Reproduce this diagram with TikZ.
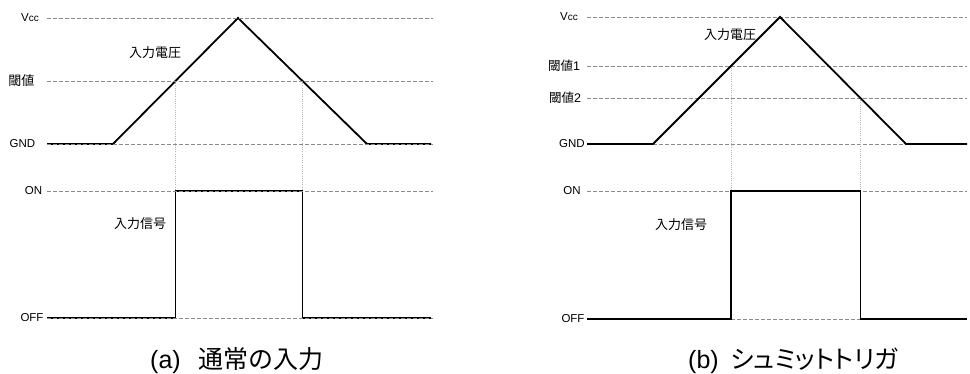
\documentclass[tikz,border=0pt]{standalone}
\usepackage{fontspec}
\setmainfont{Liberation Sans}
\newfontfamily\jp{Noto Sans CJK JP}
\newfontfamily\jpp[RawFeature=+palt]{Noto Sans CJK JP}
\definecolor{dashgray}{HTML}{8C8C8C}
\definecolor{dotgray}{HTML}{B4B4B4}
\tikzset{
  guide/.style={draw=dashgray, line width=0.9pt, dash pattern=on 4pt off 2pt},
  drop/.style={draw=dotgray, line width=0.8pt, dash pattern=on 1pt off 1.2pt},
  wave/.style={draw=black, line width=1.8pt, line join=miter},
  lvl/.style={inner sep=0pt, font=\fontsize{11.5}{13}\selectfont},
  jlbl/.style={inner sep=0pt, font=\fontsize{13}{15}\selectfont\jp},
  captext/.style={inner sep=0pt, anchor=west, font=\fontsize{25}{29}\selectfont}
}
\begin{document}
\begin{tikzpicture}[x=1pt,y=-1pt]
\useasboundingbox (0,0) rectangle (970,374);
% ================= panel (a) =================
\coordinate (aVl) at (47,18);   \coordinate (aVr) at (433,18);
\coordinate (aTl) at (47,81);   \coordinate (aTr) at (433,81);
\coordinate (aGl) at (47,144);  \coordinate (aGr) at (433,144);
\coordinate (aOl) at (47,191);  \coordinate (aOr) at (433,191);
\coordinate (aFl) at (47,318);  \coordinate (aFr) at (433,318);
\coordinate (aR1) at (175.5,81); \coordinate (aR2) at (302.5,81);
\coordinate (aS1) at (175.5,318); \coordinate (aS2) at (302.5,318);
% dotted drops
\draw[drop] (aR1) -- (aS1);
\draw[drop] (aR2) -- (aS2);
% waveforms
\draw[wave] (47,144) -- (113,144) -- (238,18) -- (367,144) -- (431,144);
\draw[wave] (47,318) -- (175.5,318) -- (175.5,191) -- (302.5,191) -- (302.5,318) -- (431,318);
% dashed guides (on top in panel a)
\foreach \l/\r in {aVl/aVr, aTl/aTr, aGl/aGr, aOl/aOr, aFl/aFr}
  \draw[guide] (\l) -- (\r);
% labels
\node[lvl] (aVcc) at (30,18) {V\fontsize{10}{11}\selectfont cc};
\node[jlbl] (aTh) at (21.5,81) {閾値};
\node[lvl] (aGND) at (22.5,144) {GND};
\node[lvl] (aON) at (33.5,191) {ON};
\node[lvl] (aOFF) at (32,318) {OFF};
\node[jlbl] (aVin) at (155,53) {入力電圧};
\node[jlbl] (aSig) at (140,224) {入力信号};
\node[captext] (aCap) at (150,361) {(a)\hspace{18pt}{\jp 通常の入力}};
% ================= panel (b) =================
\coordinate (bVl) at (587,17);  \coordinate (bVr) at (967,17);
\coordinate (bT1l) at (587,66); \coordinate (bT1r) at (967,66);
\coordinate (bT2l) at (587,98); \coordinate (bT2r) at (967,98);
\coordinate (bGl) at (587,144); \coordinate (bGr) at (967,144);
\coordinate (bOl) at (587,191); \coordinate (bOr) at (967,191);
\coordinate (bFl) at (587,319); \coordinate (bFr) at (967,319);
\coordinate (bR1) at (731,66);  \coordinate (bR2) at (860.4,98);
\coordinate (bS1) at (731,319); \coordinate (bS2) at (860.4,319);
\foreach \l/\r in {bVl/bVr, bT1l/bT1r, bT2l/bT2r, bGl/bGr, bOl/bOr, bFl/bFr}
  \draw[guide] (\l) -- (\r);
\draw[drop] (bR1) -- (bS1);
\draw[drop] (bR2) -- (bS2);
\draw[wave] (587,144) -- (653,144) -- (780,17) -- (906,144) -- (967,144);
\draw[wave] (587,319) -- (731,319) -- (731,191) -- (860.4,191) -- (860.4,319) -- (967,319);
\node[lvl] (bVcc) at (569,17) {V\fontsize{10}{11}\selectfont cc};
\node[jlbl, font=\fontsize{12.5}{14}\selectfont] (bTh1) at (564,66) {{\jp 閾値}1};
\node[jlbl, font=\fontsize{12.5}{14}\selectfont] (bTh2) at (565,98) {{\jp 閾値}2};
\node[lvl] (bGND) at (572,144) {GND};
\node[lvl] (bON) at (572,191) {ON};
\node[lvl] (bOFF) at (573,319) {OFF};
\node[jlbl] (bVin) at (730,35) {入力電圧};
\node[jlbl] (bSig) at (681,225) {入力信号};
\node[captext] (bCap) at (688,361) {(b)\hspace{12pt}{\jpp シュミットトリガ}};
\end{tikzpicture}
\end{document}
